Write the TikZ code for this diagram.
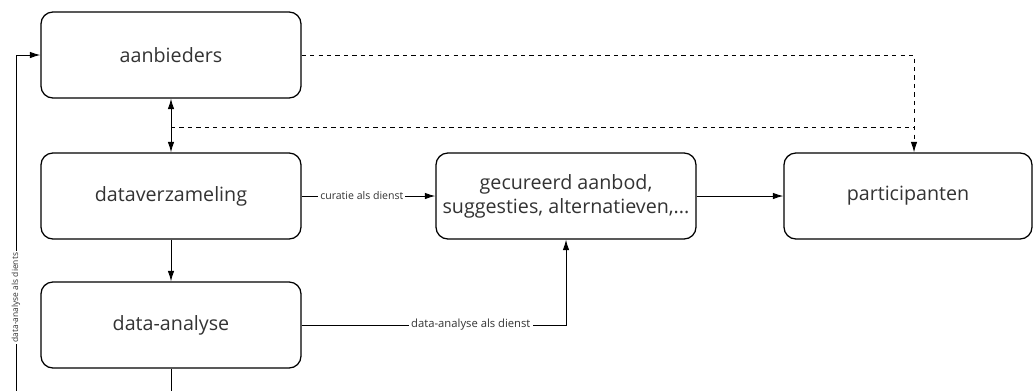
\documentclass[tikz,border=0pt]{standalone}
\usepackage{fontspec}
\setmainfont{Open Sans}
\usetikzlibrary{arrows.meta}
\begin{document}
\begin{tikzpicture}[x=0.025cm,y=-0.025cm,
	>={Latex[length=2.6mm,width=1.6mm]},
	box/.style={draw,line width=0.9pt,rounded corners=0.3cm,minimum width=6.5cm,minimum height=2.15cm,inner sep=0pt,font=\fontsize{14}{17}\selectfont,text=black!80,align=center},
	lbl/.style={fill=white,inner sep=1.5pt,text=black!80},
	line width=0.6pt]
	\useasboundingbox (0,0) rectangle (1033,390);
	%%%%%%%%
	\node[box] (aanb) at (171,55) {aanbieders};
	\node[box] (verz) at (171,196) {dataverzameling};
	\node[box] (ana) at (171,325) {data-analyse};
	\node[box] (gec) at (566,196) {gecureerd aanbod,\\suggesties, alternatieven,...};
	\node[box,minimum width=6.2cm] (part) at (908,196) {participanten};
	\coordinate (pin) at ([xshift=0.15cm]part.north);
	\coordinate (dj) at (171,127);
	\coordinate (lb) at (16,392);
	\coordinate (ab) at (171,392);
	%%%%%%%%
	\draw[<->] (aanb) -- (verz);
	\draw[->] (verz) -- (ana);
	\draw (ana) -- (ab);
	\draw[->] (verz) -- node[lbl,pos=0.45,font=\fontsize{7.5}{9}\selectfont]{curatie als dienst} (gec);
	\draw[->] (gec) -- (part);
	\draw[->] (ana.east) -| node[lbl,pos=0.32,font=\fontsize{8}{9}\selectfont]{data-analyse als dienst} (gec.south);
	\draw[->] (lb) |- node[lbl,pos=0.14,rotate=90,font=\fontsize{6}{7}\selectfont]{data-analyse als dients} (aanb.west);
	\draw[dashed,->] (aanb.east) -| (pin);
	\draw[dashed] (dj) -- (dj -| pin);
\end{tikzpicture}
\end{document}
